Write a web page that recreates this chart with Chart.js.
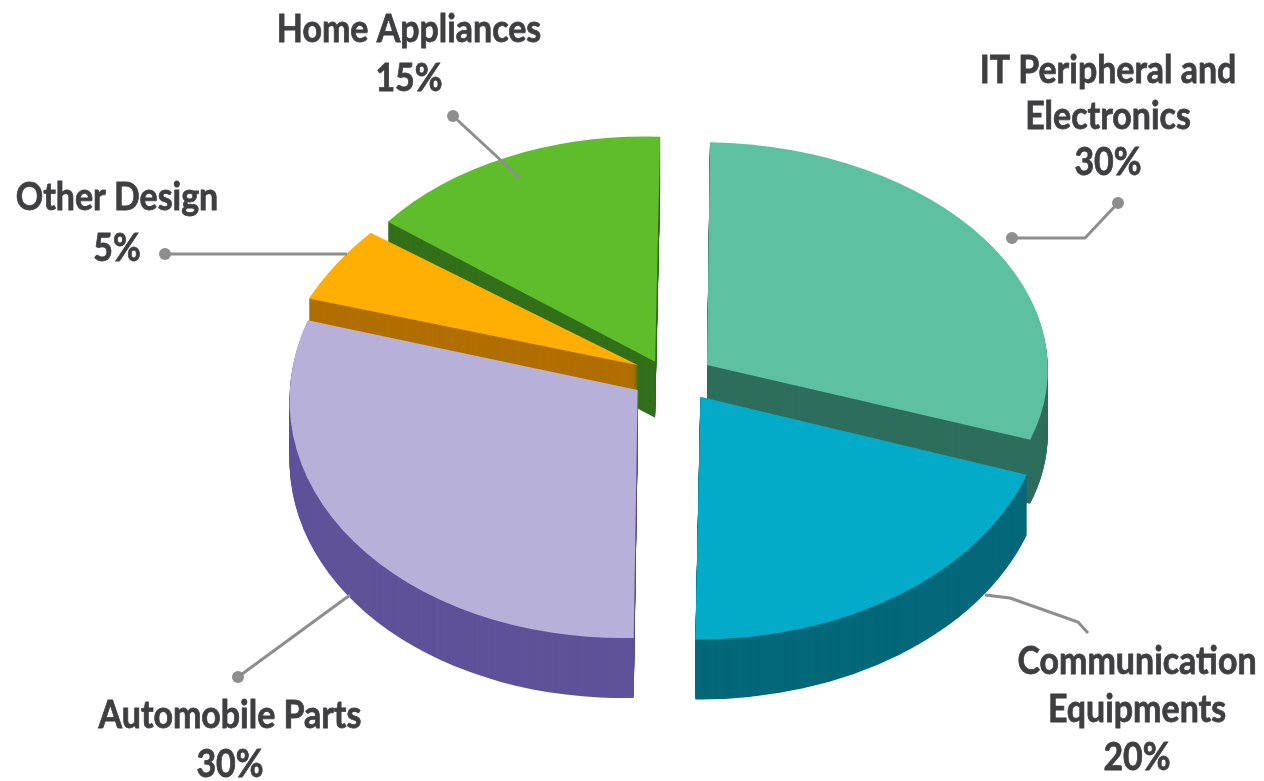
<!DOCTYPE html>
<html>
<head>
<meta charset="utf-8">
<title>Product mix</title>
<script src="https://cdn.jsdelivr.net/npm/chart.js@4"></script>
<style>
  html, body { margin: 0; background: #fff; }
  canvas { display: block; }
</style>
</head>
<body>
<canvas id="chart" width="1264" height="781"></canvas>
<script>
const categories = ['IT Peripheral and Electronics', 'Communication Equipments', 'Automobile Parts', 'Other Design', 'Home Appliances'];
const shares = [30, 20, 30, 5, 15];

const topColors = ['#5cc0a1', '#03abc9', '#b7b0d8', '#ffae04', '#5fbc2a'];
const wallColors = ['#2e6e5c', '#04687a', '#5f5299', '#b06f00', '#33701a'];

// the fake perspective, one entry per slice
const explode = [42, 38, 40, 38, 35];   // how far each slice is pulled out
const nudge = [[1, 1], [6, -5], [-2, -7], [0, -3], [-1, 2]];
const widen = [0.988, 1, 1.009, 1.04, 0.968];
const tilt = [0.646, 0.704, 0.719, 0.676, 0.652];
const shearX = [-0.0135, -0.0206, -0.016, -0.167, -0.0222];
const shearY = [0.018, 0.009, -0.021, -0.0154, 0.0288];
const depth = [64, 60, 60, 40, 56];

// text blocks and their leader lines
const labelBlocks = [
  { lines: ['IT Peripheral and', 'Electronics', '30%'], x: 1108, y: 70, gap: 46 },
  { lines: ['Communication', 'Equipments', '20%'], x: 1137, y: 661, gap: 48 },
  { lines: ['Automobile Parts', '30%'], x: 230, y: 715, gap: 49 },
  { lines: ['Other Design', '5%'], x: 117, y: 197, gap: 51 },
  { lines: ['Home Appliances', '15%'], x: 409, y: 29, gap: 49 }
];
const leaders = [
  [[1012, 238], [1085, 238], [1118, 203]],
  [[985, 595], [1010, 598], [1078, 622], [1088, 633]],
  [[238, 677], [350, 595]],
  [[165, 254], [347, 254]],
  [[453, 116], [520, 178]]
];
const dotEnds = [[1012, 238, 1118, 203], [], [238, 677], [165, 254], [453, 116]];

const pie3d = {
  id: 'pie3d',
  beforeDatasetsDraw(chart) {
    const ctx = chart.ctx;
    const arcs = chart.getDatasetMeta(0).data;

    // back slices first
    const order = arcs.map((a, i) => i).sort((p, q) => {
      const mid = a => (a.startAngle + a.endAngle) / 2;
      return Math.sin(mid(arcs[p])) - Math.sin(mid(arcs[q]));
    });

    order.forEach(i => {
      const arc = arcs[i];
      const mid = (arc.startAngle + arc.endAngle) / 2;
      const apexX = arc.x + Math.cos(mid) * explode[i] + nudge[i][0];
      const apexY = arc.y + Math.sin(mid) * explode[i] * tilt[i] + nudge[i][1];
      const place = drop => {
        ctx.setTransform(1, 0, 0, 1, 0, 0);
        ctx.translate(apexX, apexY + drop);
        ctx.transform(widen[i], shearY[i] * widen[i], shearX[i] * tilt[i], tilt[i], 0, 0);
        ctx.translate(-arc.x, -arc.y);
      };

      ctx.save();
      ctx.fillStyle = wallColors[i];
      for (let d = depth[i]; d > 0; d--) {
        place(d);
        ctx.beginPath();
        ctx.moveTo(arc.x, arc.y);
        ctx.arc(arc.x, arc.y, arc.outerRadius, arc.startAngle, arc.endAngle);
        ctx.closePath();
        ctx.fill();
      }
      place(0);
      arc.draw(ctx);
      ctx.restore();
    });
    return false;
  },
  afterDraw(chart) {
    const ctx = chart.ctx;
    ctx.save();
    ctx.strokeStyle = '#8e8e8e';
    ctx.fillStyle = '#8e8e8e';
    ctx.lineWidth = 3;
    leaders.forEach(pts => {
      ctx.beginPath();
      pts.forEach((p, k) => k ? ctx.lineTo(p[0], p[1]) : ctx.moveTo(p[0], p[1]));
      ctx.stroke();
    });
    dotEnds.forEach(d => {
      for (let k = 0; k < d.length; k += 2) {
        ctx.beginPath();
        ctx.arc(d[k], d[k + 1], 6, 0, Math.PI * 2);
        ctx.fill();
      }
    });

    ctx.fillStyle = '#3f3f41';
    ctx.strokeStyle = '#3f3f41';
    ctx.lineWidth = 0.8;
    ctx.font = '700 39px Lato';
    ctx.textAlign = 'center';
    ctx.textBaseline = 'middle';
    labelBlocks.forEach(b => {
      b.lines.forEach((line, k) => {
        ctx.save();
        ctx.translate(b.x, b.y + k * b.gap);
        ctx.scale(0.87, 1);
        ctx.fillText(line, 0, 0);
        ctx.strokeText(line, 0, 0);
        ctx.restore();
      });
    });
    ctx.restore();
  }
};

new Chart(document.getElementById('chart'), {
  type: 'pie',
  data: {
    labels: categories,
    datasets: [{
      data: shares,
      backgroundColor: topColors,
      borderWidth: 0
    }]
  },
  options: {
    responsive: false,
    animation: false,
    radius: 345,
    layout: { padding: { left: 80, bottom: 21 } },
    plugins: { legend: { display: false }, tooltip: { enabled: false } }
  },
  plugins: [pie3d]
});
</script>
</body>
</html>
